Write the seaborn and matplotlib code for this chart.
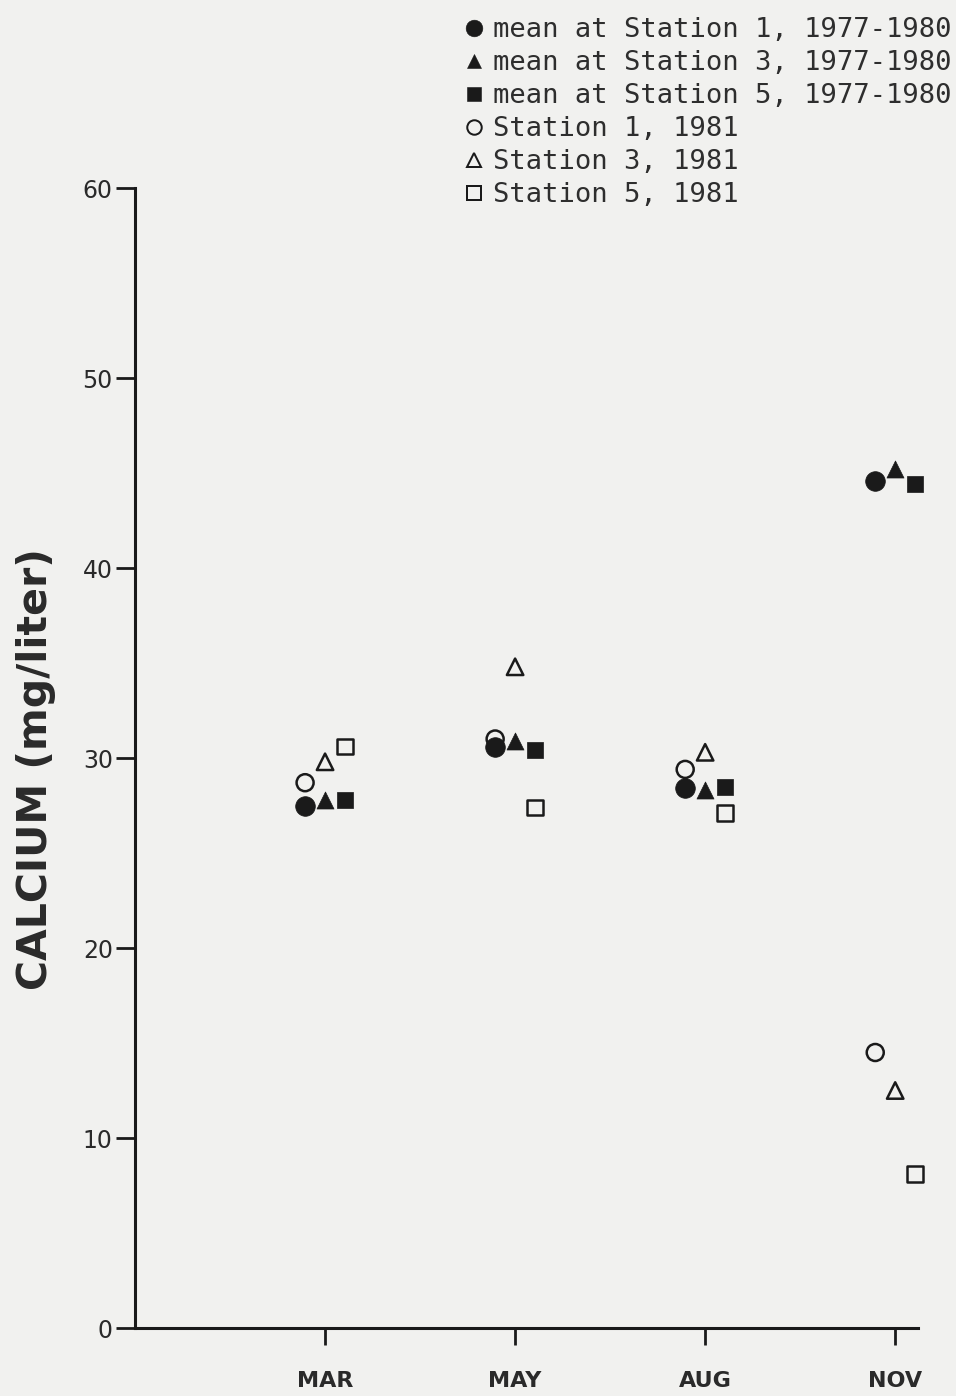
import matplotlib
matplotlib.use("Agg")
import matplotlib.pyplot as plt
from matplotlib.lines import Line2D
import numpy as np
import pandas as pd
import seaborn as sns

# Sampling months
months = ["MAR", "MAY", "AUG", "NOV"]

# Calcium (mg/liter): long-term means 1977-1980
mean_st1 = [27.5, 30.6, 28.4, 44.6]
mean_st3 = [27.8, 30.9, 28.3, 45.2]
mean_st5 = [27.8, 30.4, 28.5, 44.4]

# Calcium (mg/liter): 1981 observations
st1_1981 = [28.7, 31.0, 29.4, 14.5]
st3_1981 = [29.8, 34.8, 30.3, 12.5]
st5_1981 = [30.6, 27.4, 27.1, 8.1]

y_ticks = [0, 10, 20, 30, 40, 50, 60]

series = [
    ("mean at Station 1, 1977-1980", 1, mean_st1),
    ("mean at Station 3, 1977-1980", 3, mean_st3),
    ("mean at Station 5, 1977-1980", 5, mean_st5),
    ("Station 1, 1981", 1, st1_1981),
    ("Station 3, 1981", 3, st3_1981),
    ("Station 5, 1981", 5, st5_1981),
]

rows = []
for label, station, vals in series:
    for i, (m, v) in enumerate(zip(months, vals)):
        rows.append({"series": label, "station": station, "month": m,
                     "month_idx": i, "calcium": v})
df = pd.DataFrame(rows)

# stations are drawn side by side around each month tick
station_shift = {1: -0.105, 3: 0.0, 5: 0.105}
df["xpos"] = df["month_idx"] + df["station"].map(station_shift)

sns.set_theme(style="white")
bg = "#f1f1ef"
ink = "#1a1a1a"
plt.rcParams["font.family"] = ["DejaVu Sans"]

fig = plt.figure(figsize=(9.56, 13.96), dpi=100, facecolor=bg)
ax = fig.add_axes([135 / 956, 68 / 1396, (918 - 135) / 956, (1328 - 188) / 1396])
ax.set_facecolor(bg)

styles = {
    "mean at Station 1, 1977-1980": dict(marker="o", s=200, fc=ink, ec=ink, lw=0.5),
    "mean at Station 3, 1977-1980": dict(marker="^", s=150, fc=ink, ec=ink, lw=0.5),
    "mean at Station 5, 1977-1980": dict(marker="s", s=140, fc=ink, ec=ink, lw=0.5),
    "Station 1, 1981": dict(marker="o", s=150, fc="none", ec=ink, lw=1.8),
    "Station 3, 1981": dict(marker="^", s=140, fc="none", ec=ink, lw=1.8),
    "Station 5, 1981": dict(marker="s", s=125, fc="none", ec=ink, lw=1.8),
}

for label, _, _ in series:
    st = styles[label]
    sub = df[df["series"] == label]
    sns.scatterplot(data=sub, x="xpos", y="calcium", ax=ax, marker=st["marker"],
                    s=st["s"], facecolor=st["fc"], edgecolor=st["ec"],
                    linewidth=st["lw"], legend=False, zorder=3, clip_on=False)

ax.set_xlim(-1.0, 3.12)
ax.set_ylim(0, 60)
ax.set_xticks(range(len(months)))
ax.set_xticklabels(months, fontsize=16, fontweight="bold", color="#2a2a2a")
ax.set_yticks(y_ticks)
ax.set_yticklabels([str(t) for t in y_ticks], fontsize=17, color="#2a2a2a")
ax.set_xlabel("")
ax.set_ylabel("CALCIUM (mg/liter)", fontsize=29.5, fontweight="bold",
              color="#2a2a2a")
ax.yaxis.set_label_coords(-0.101, 0.49)

for side in ["top", "right"]:
    ax.spines[side].set_visible(False)
for side in ["left", "bottom"]:
    ax.spines[side].set_color(ink)
    ax.spines[side].set_linewidth(2.2)

ax.tick_params(axis="y", direction="out", length=14, width=2, color=ink, pad=2, left=True)
ax.tick_params(axis="x", direction="out", length=12, width=2, color=ink, pad=19, bottom=True)

handles = []
for label, _, _ in series:
    st = styles[label]
    handles.append(Line2D([], [], linestyle="none", marker=st["marker"],
                          markersize=np.sqrt(st["s"]) * 0.85,
                          markerfacecolor=st["fc"], markeredgecolor=st["ec"],
                          markeredgewidth=st["lw"] * 0.8))

leg = fig.legend(handles=handles, labels=[s[0] for s in series],
                 loc="upper left", bbox_to_anchor=(462 / 956, 1 - 17 / 1396),
                 frameon=False, handlelength=0.9, handletextpad=0.25,
                 labelspacing=0.26, borderaxespad=0, borderpad=0,
                 prop={"family": "DejaVu Sans Mono", "size": 19.5})
for t in leg.get_texts():
    t.set_color("#2e2e2e")

fig.savefig("out.png", dpi=100, facecolor=bg)
